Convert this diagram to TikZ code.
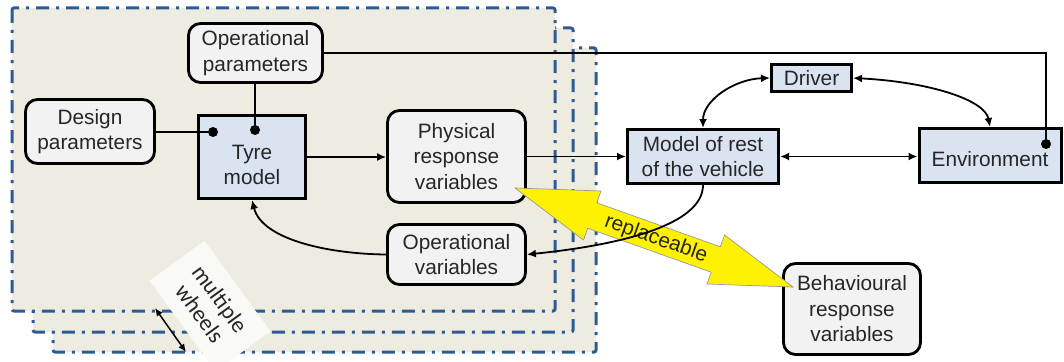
\documentclass[tikz,border=0pt]{standalone}
\usepackage{fontspec}
\setmainfont{Liberation Sans}
\newfontfamily\calfont{Carlito}
\usetikzlibrary{arrows.meta}
\definecolor{framecol}{HTML}{2E5C92}
\definecolor{framefill}{HTML}{EEEBE1}
\definecolor{boxgray}{HTML}{F2F2F2}
\definecolor{boxblue}{HTML}{DAE3F0}
\definecolor{txt}{HTML}{262626}
\definecolor{notefill}{HTML}{F9F9F5}
\begin{document}
\begin{tikzpicture}[x=1pt,y=-1pt,
  every node/.style={font=\fontsize{20.8}{25.5}\selectfont, text=txt, align=center},
  frame/.style={draw=framecol, fill=framefill, line width=3pt,
    dash pattern=on 13pt off 7pt on 3pt off 7pt, rounded corners=2pt},
  varbox/.style={draw=black, fill=boxgray, line width=2.8pt, rounded corners=12pt, inner sep=0pt},
  modelbox/.style={draw=black, fill=boxblue, line width=3pt, inner sep=0pt},
  link/.style={line width=1.3pt},
  flow/.style={line width=1.8pt, -{Latex[length=9pt,width=8pt]}},
  biflow/.style={line width=1.8pt, {Latex[length=9pt,width=8pt]}-{Latex[length=9pt,width=8pt]}},
  port/.style={circle, fill=black, inner sep=0pt, minimum size=10pt},
  swap arrow/.style={draw=gray!80, fill=yellow, line width=0.7pt, line join=miter},
]
\useasboundingbox (0,0) rectangle (1064,361);

% stacked wheel frames
\path[frame] (53,48) rectangle (596,352);
\path[frame] (33,28) rectangle (573,332);
\path[frame] (12,8) rectangle (555,311);

% multiple wheels note
\node[fill=notefill, minimum width=112pt, minimum height=68pt, inner sep=0pt, rotate=-54,
  font=\calfont\fontsize{23}{25}\selectfont] (mw) at (210,306) {multiple\\wheels};
\coordinate (w1) at (155,308);
\coordinate (w2) at (186,352);
\draw[line width=1.5pt, {Latex[length=8pt,width=7pt]}-{Latex[length=8pt,width=7pt]}] (w1) -- (w2);

% variable boxes
\node[varbox, minimum width=134pt, minimum height=59pt] (opp) at (255.5,53) {Operational\\parameters};
\node[varbox, minimum width=129pt, minimum height=64pt] (design) at (90,131.5) {Design\\parameters};
\node[varbox, minimum width=138pt, minimum height=92pt] (phys) at (456.5,156.5) {Physical\\response\\variables};
\node[varbox, minimum width=138pt, minimum height=60pt] (opv) at (456.5,254.5) {Operational\\variables};
\node[varbox, minimum width=137pt, minimum height=91pt] (beh) at (852,309) {Behavioural\\response\\variables};

% model boxes
\node[modelbox, minimum width=107pt, minimum height=83pt,
  label={[yshift=-8pt, align=center]center:Tyre\\model}] (tyre) at (252,157) {};
\node[modelbox, minimum width=151pt, minimum height=54pt] (model) at (703,156.5) {Model of rest\\of the vehicle};
\node[modelbox, minimum width=80pt, minimum height=27pt] (driver) at (811.5,78) {Driver};
\node[modelbox, minimum width=142pt, minimum height=54pt,
  label={[yshift=-4pt]center:Environment}] (env) at (990,155.5) {};

% parameter ports
\node[port] (dd) at (213,132) {};
\node[port] (dop) at (255,130) {};
\node[port] (denv) at (1046,144) {};

\draw[link] (dd -| design.east) -- (dd);
\draw[link] (opp.south -| dop) -- (dop);
\draw[link] (opp.east) -- (opp.east -| denv) -- (denv);

% replaceable double arrow
\path[swap arrow] (515,188) -- (601.0,191.0) -- (596.8,202.8) -- (720.3,246.8)
  -- (724.5,235.0) -- (793,287) -- (707.0,284.0) -- (711.2,272.2)
  -- (587.7,228.2) -- (583.5,240.0) -- cycle;
\node[rotate=-19.6, inner sep=0pt] (repl) at (656,239) {replaceable};

% signal flows
\draw[flow] (tyre.east) -- (tyre.east -| phys.west);
\draw[flow] (phys.east) -- (phys.east -| model.west);
\draw[biflow] (model.east) -- (model.east -| env.west);
\draw[biflow] (driver.west) .. controls (735,79) and (703,100) .. (model.north);
\draw[biflow] (driver.east) .. controls (930,82) and (985,100) .. (env.north);
\draw[flow] (model.south) .. controls (703,225) and (620,245) .. (opv.east);
\draw[flow] (opv.west) .. controls (330,254) and (262,240) .. (tyre.south);
\end{tikzpicture}
\end{document}
